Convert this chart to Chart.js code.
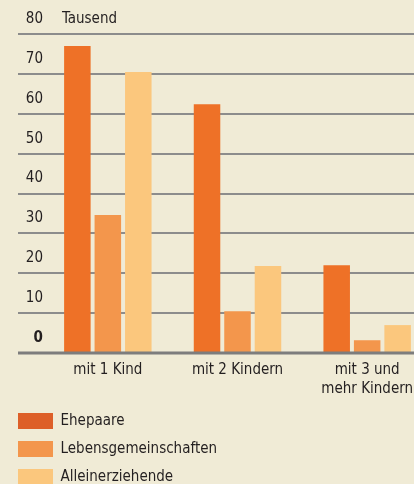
<!DOCTYPE html>
<html>
<head>
<meta charset="utf-8">
<script src="https://cdn.jsdelivr.net/npm/chart.js@4"></script>
<style>
  html, body { margin: 0; padding: 0; background: #f0ebd6; }
  #wrap { width: 414px; height: 484px; position: relative; }
</style>
</head>
<body>
<div id="wrap"><canvas id="kinder"></canvas></div>
<script>
const categories = ['mit 1 Kind', 'mit 2 Kindern', ['mit 3 und', 'mehr Kindern']];
const ehepaare = [77, 62.4, 22];
const lebensgemeinschaften = [34.6, 10.5, 3.2];
const alleinerziehende = [70.5, 21.8, 7];
const unit = 'Tausend';

const FONT = "'DejaVu Sans Condensed', 'Liberation Sans Narrow', 'Noto Sans', sans-serif";
const SIZE = 15;
const TEXT = '#231f20';

// x scale runs a bit past the right edge, legend sits below the axis,
// zero line over the bars, unit label next to the top tick
const decor = {
  id: 'decor',
  afterLayout(chart) {
    const xs = chart.scales.x;
    xs.right = chart.width + 18;
    xs.width = xs.right - xs.left;
    xs.configure();
    const lg = chart.legend;
    lg.left = 6; lg.right = 414; lg.top = 401; lg.bottom = 560;
  },
  afterDatasetsDraw(chart) {
    const y = chart.scales.y, ctx = chart.ctx;
    const y0 = y.getPixelForValue(0);
    ctx.save();
    ctx.strokeStyle = '#7d7d7d';
    ctx.lineWidth = 3;
    ctx.beginPath();
    ctx.moveTo(18, y0);
    ctx.lineTo(chart.width, y0);
    ctx.stroke();
    ctx.fillStyle = TEXT;
    ctx.font = SIZE + 'px ' + FONT;
    ctx.textBaseline = 'middle';
    ctx.textAlign = 'left';
    ctx.fillText(unit, chart.chartArea.left + 19, y.getPixelForValue(80) - 15);
    ctx.restore();
  }
};

new Chart(document.getElementById('kinder'), {
  type: 'bar',
  data: {
    labels: categories,
    datasets: [
      { label: 'Ehepaare', data: ehepaare, backgroundColor: '#ee7127' },
      { label: 'Lebensgemeinschaften', data: lebensgemeinschaften, backgroundColor: '#f3964c' },
      { label: 'Alleinerziehende', data: alleinerziehende, backgroundColor: '#fbc77d' }
    ]
  },
  options: {
    responsive: true,
    maintainAspectRatio: false,
    animation: false,
    datasets: { bar: { categoryPercentage: 0.705, barPercentage: 0.87, borderWidth: 0 } },
    layout: { padding: { top: 34, right: 0, bottom: 0, left: 0 } },
    plugins: {
      tooltip: { enabled: false },
      legend: {
        position: 'chartArea',
        align: 'start',
        labels: {
          boxWidth: 35,
          boxHeight: 16,
          padding: 12,
          color: TEXT,
          font: { family: FONT, size: SIZE },
          generateLabels(chart) {
            const items = Chart.defaults.plugins.legend.labels.generateLabels(chart);
            items[0].fillStyle = '#dd5f28';
            return items;
          }
        }
      }
    },
    scales: {
      x: {
        grid: { display: false, drawTicks: false },
        border: { display: false },
        ticks: { color: TEXT, font: { family: FONT, size: SIZE, lineHeight: 1.3 }, padding: 7, maxRotation: 0 },
        afterFit(s) { s.height = 131; }
      },
      y: {
        min: 0,
        max: 80,
        border: { display: false },
        grid: { color: '#8c8c8c', lineWidth: 2, tickLength: 25 },
        ticks: {
          stepSize: 10,
          padding: -25,
          labelOffset: -15,
          color: TEXT,
          font: c => ({ family: FONT, size: SIZE, weight: c.tick && c.tick.value === 0 ? 'bold' : 'normal' })
        },
        afterFit(s) { s.width = 43; }
      }
    }
  },
  plugins: [decor]
});
</script>
</body>
</html>
